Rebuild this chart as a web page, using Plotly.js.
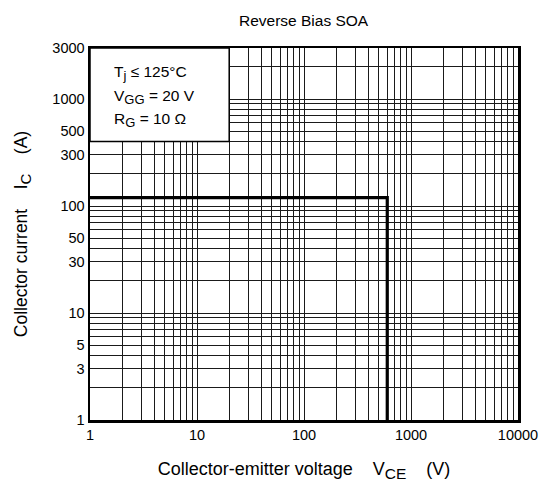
<!DOCTYPE html>
<html>
<head>
<meta charset="utf-8">
<script src="https://cdn.plot.ly/plotly-3.0.1.min.js"></script>
<style>html,body{margin:0;padding:0;background:#fff;}#chart{width:547px;height:488px;}</style>
</head>
<body>
<div id="chart"></div>
<script>
// SOA boundary (Collector-emitter voltage V, Collector current A)
const soaVce = [1, 600, 600];
const soaIc = [120, 120, 1];

const xTickLabels = [1, 10, 100, 1000, 10000];
const yTickLabels = [1, 3, 5, 10, 30, 50, 100, 300, 500, 1000, 3000];

function sub(t, px) { return "<sub><span style='font-size:" + px + "px'>" + t + "</span></sub>"; }
const conditionLines = [
  "T" + sub("j", 13) + " ≤ 125°C",
  "V" + sub("GG", 13) + " = 20 V",
  "R" + sub("G", 13) + " = 10 Ω"
];
const conditionY = [0.9336, 0.869, 0.806];

function gridVals(maxDecade, maxVal) {
  const v = [];
  for (let d = 0; d <= maxDecade; d++) {
    for (let m = 1; m <= 9; m++) {
      const val = m * Math.pow(10, d);
      if (val <= maxVal) v.push(val);
    }
  }
  return v;
}
const xGrid = gridVals(4, 10000);
const yGrid = gridVals(3, 3000);
const xText = xGrid.map(v => xTickLabels.includes(v) ? String(v) : "");
const yText = yGrid.map(v => yTickLabels.includes(v) ? String(v) : "");

const font = {family: "Liberation Sans, Arial, sans-serif", color: "#000"};

const trace = {
  x: soaVce, y: soaIc, mode: "lines", type: "scatter",
  line: {color: "#000", width: 3.2}, hoverinfo: "skip", showlegend: false
};

const annotations = conditionLines.map((t, i) => ({
  xref: "paper", yref: "paper", x: 0.052, y: conditionY[i],
  xanchor: "left", yanchor: "middle", showarrow: false,
  text: t, font: Object.assign({size: 15.5}, font)
}));

const sp = "\u00a0\u00a0\u00a0\u00a0";
const layout = {
  width: 547, height: 488,
  margin: {l: 90, r: 29, t: 48, b: 68},
  paper_bgcolor: "#fff", plot_bgcolor: "#fff",
  title: {text: "Reverse Bias SOA", x: 0.555, xanchor: "center", y: 0.958, yanchor: "middle",
          font: Object.assign({size: 15.5}, font)},
  xaxis: {
    type: "log", range: [0, 4],
    tickmode: "array", tickvals: xGrid, ticktext: xText,
    showgrid: true, gridcolor: "#1a1a1a", gridwidth: 1,
    showline: true, linecolor: "#000", linewidth: 2.5, mirror: true,
    ticks: "", zeroline: false, tickfont: Object.assign({size: 14.5}, font),
    title: {text: "Collector-emitter voltage" + sp + "V" + sub("CE", 15.5) + sp + "(V)", standoff: 21,
            font: Object.assign({size: 18}, font)},
    fixedrange: true
  },
  yaxis: {
    type: "log", range: [0, Math.log10(3000)],
    tickmode: "array", tickvals: yGrid, ticktext: yText,
    showgrid: true, gridcolor: "#1a1a1a", gridwidth: 1,
    showline: true, linecolor: "#000", linewidth: 2.5, mirror: true,
    ticks: "", zeroline: false, tickfont: Object.assign({size: 14.5}, font),
    title: {text: "Collector current" + sp + "I" + sub("C", 15) + sp + "(A)", standoff: 20,
            font: Object.assign({size: 17.5}, font)},
    fixedrange: true
  },
  shapes: [{
    type: "rect", xref: "x", yref: "y", x0: 1, x1: 20, y0: 400, y1: 3000,
    fillcolor: "#fff", line: {color: "#000", width: 1.5}, layer: "above"
  }],
  annotations: annotations
};

Plotly.newPlot("chart", [trace], layout, {displayModeBar: false, staticPlot: true});
</script>
</body>
</html>
